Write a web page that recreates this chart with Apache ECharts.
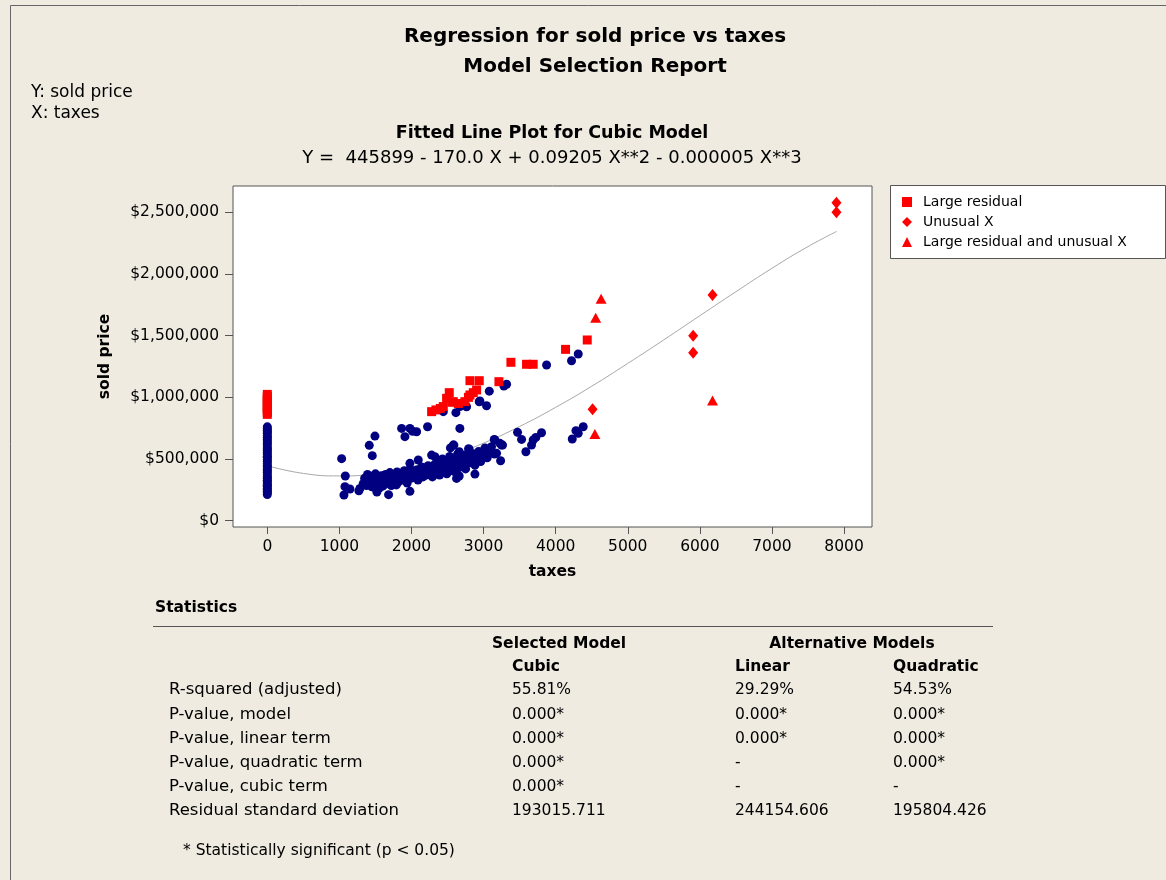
<!DOCTYPE html>
<html><head><meta charset="utf-8">
<script src="https://cdn.jsdelivr.net/npm/echarts@6/dist/echarts.min.js"></script>
<style>html,body{margin:0;padding:0;background:#EFEBE1}#c{width:1166px;height:880px}</style>
</head><body><div id="c"></div><script>
// ---------- data ----------
const taxTicks = [0, 1000, 2000, 3000, 4000, 5000, 6000, 7000, 8000];
const priceTicks = [0, 500000, 1000000, 1500000, 2000000, 2500000];

// fitted cubic curve, sampled along the drawn line
const fitTaxes = [0, 500, 1000, 1500, 2000, 2500, 3000, 3500, 4000, 4500, 5000, 5500, 6000, 6500, 7000, 7500, 7900];
const fitPrice = [445899, 383300, 363000, 381000, 434000, 518000, 629000, 764000, 919000, 1090000, 1275000, 1466000, 1662000, 1856000, 2046000, 2222000, 2345000];

// ordinary observations at taxes = 0
const zeroTaxPrices = [212000, 226000, 238000, 251000, 262000, 279000, 288000, 301000, 318000, 327000, 344000, 356000, 372000, 391000, 402000, 418000, 436000, 447000, 463000, 481000, 494000, 512000, 523000, 541000, 553000, 572000, 584000, 597000, 618000, 629000, 646000, 658000, 676000, 688000, 707000, 719000, 733000, 748000, 761000];

// ordinary observations with taxes > 0  [taxes, sold price]
const normalPoints = [
  [1031,503000],[1082,362000],[1077,276000],[1063,208000],[1146,257000],[1285,262000],[1270,242000],
  [1414,611000],[1456,527000],[1493,686000],[1405,362000],[1414,297000],[1516,248000],[1550,262000],[1520,232000],
  [1682,211000],[1978,238000],
  [1863,748000],[1909,681000],[1978,748000],[2015,725000],[2071,721000],[2223,762000],[2671,748000],
  [2441,884000],[2616,876000],[2672,925000],[2764,924000],[2940,964000],[3041,932000],[2949,970000],
  [3079,1050000],[3282,1092000],[3319,1106000],[3874,1262000],[4220,1297000],[4313,1351000],
  [2801,578000],[3018,578000],[3088,559000],[3157,654000],[3180,546000],[3226,627000],[3249,613000],[3236,486000],
  [2588,613000],[2662,559000],[2792,584000],[2880,540000],[3064,559000],[3148,659000],[3263,613000],
  [2588,492000],[2717,497000],[2510,451000],
  [3471,716000],[3527,659000],[3587,559000],[3665,613000],[3688,654000],[3725,675000],[3804,713000],
  [4230,662000],[4281,730000],[4313,708000],[4382,762000],
  [2880,378000],[2625,343000],[2662,362000],
  [1330,300000],[1350,345000],[1375,320000],[1390,375000],[1420,335000],[1440,300000],[1460,360000],[1480,320000],
  [1500,380000],[1520,295000],[1540,345000],[1560,315000],[1580,365000],[1600,330000],[1620,290000],[1640,375000],
  [1660,345000],[1680,310000],[1700,390000],[1720,335000],[1740,300000],[1760,365000],[1780,340000],[1800,395000],
  [1820,315000],[1840,355000],[1860,380000],[1880,330000],[1900,405000],[1920,360000],[1940,305000],[1960,380000],
  [1980,420000],[2000,345000],[2020,390000],[2050,365000],[2070,410000],[2090,330000],[2110,385000],[2140,435000],
  [2160,355000],[2180,400000],[2200,370000],[2230,445000],[2250,390000],[2270,410000],[2290,355000],[2310,450000],
  [2330,395000],[2350,480000],[2370,420000],[2390,370000],[2410,460000],[2430,500000],[2450,400000],[2470,440000],
  [2490,380000],[2510,470000],[2530,520000],[2550,425000],[2570,455000],[2590,400000],[2620,480000],[2640,540000],
  [2660,430000],[2690,500000],[2710,460000],[2730,530000],[2750,420000],[2780,490000],[2800,560000],[2820,470000],
  [2850,520000],[2880,450000],[2900,500000],[2930,560000],[2960,480000],[2990,530000],[3020,590000],[3050,510000],
  [3110,600000],[3150,540000],[1978,465000],[2094,492000],[2279,532000],[2325,519000],[2579,613000],[2540,590000],
  [1377,285000],[1450,275000],[1600,280000],[1720,285000],[1790,290000]
];

// large residual observations
const largeResidualZeroTax = [862000, 878000, 893000, 910000, 927000, 941000, 958000, 976000, 992000, 1008000, 1024000];
const largeResidual = [
  [2279,884000],[2339,898000],[2400,910000],[2441,925000],[2487,992000],[2524,1038000],[2560,960000],[2580,965000],
  [2650,950000],[2741,965000],[2790,1000000],[2811,1019000],[2857,1038000],[2903,1060000],[2811,1135000],[2940,1135000],
  [3213,1127000],[3379,1284000],[3596,1268000],[3688,1268000],[4137,1389000],[4438,1465000]
];
// unusual X observations
const unusualX = [[4512,903000],[5907,1362000],[5907,1500000],[6176,1830000],[7895,2500000],[7895,2578000]];
// large residual and unusual X
const largeResUnusualX = [[4544,703000],[4555,1645000],[4630,1800000],[6176,975000]];

// statistics table
const statLabels = ['R-squared (adjusted)', 'P-value, model', 'P-value, linear term', 'P-value, quadratic term', 'P-value, cubic term', 'Residual standard deviation'];
const cubicStats = ['55.81%', '0.000*', '0.000*', '0.000*', '0.000*', '193015.711'];
const linearStats = ['29.29%', '0.000*', '0.000*', '-', '-', '244154.606'];
const quadraticStats = ['54.53%', '0.000*', '0.000*', '0.000*', '-', '195804.426'];

// ---------- chart ----------
const FONT = '"DejaVu Sans", Tahoma, sans-serif';
const money = v => '$' + v.toLocaleString('en-US');
function txt(text, x, y, size, bold, align) {
  return {
    type: 'text', silent: true, z: 10,
    style: {
      text: text, x: x, y: y,
      font: (bold ? 'bold ' : '') + size + 'px ' + FONT,
      fill: '#000', align: align || 'left', textAlign: align || 'left',
      verticalAlign: 'middle', textVerticalAlign: 'middle'
    }
  };
}
const graphics = [
  { type: 'rect', silent: true, z: -5, shape: { x: 10.5, y: 5.5, width: 1200, height: 900 }, style: { fill: 'none', stroke: '#666', lineWidth: 1 } },
  { type: 'rect', silent: true, z: -1, shape: { x: 890.5, y: 185.5, width: 275, height: 73 }, style: { fill: '#fff', stroke: '#555', lineWidth: 1 } },
  txt('Regression for sold price vs taxes', 595, 37, 20, true, 'center'),
  txt('Model Selection Report', 595, 67, 20, true, 'center'),
  txt('Y: sold price', 31, 93, 17, false),
  txt('X: taxes', 31, 114, 17, false),
  txt('Fitted Line Plot for Cubic Model', 552, 133, 17.5, true, 'center'),
  txt('Y =  445899 - 170.0 X + 0.09205 X**2 - 0.000005 X**3', 552, 158, 18, false, 'center'),
  txt('Statistics', 155, 608, 15.5, true),
  { type: 'line', silent: true, shape: { x1: 153, y1: 626.5, x2: 993, y2: 626.5 }, style: { stroke: '#555', lineWidth: 1 } },
  txt('Selected Model', 559, 644, 15.5, true, 'center'),
  txt('Alternative Models', 852, 644, 15.5, true, 'center'),
  txt('Cubic', 512, 667, 15.5, true),
  txt('Linear', 735, 667, 15.5, true),
  txt('Quadratic', 893, 667, 15.5, true),
  txt('* Statistically significant (p < 0.05)', 183, 851, 15.5, false)
];
const rowY = [690, 715, 739, 763, 787, 811];
statLabels.forEach((l, i) => {
  graphics.push(txt(l, 169, rowY[i], 16.5, false));
  graphics.push(txt(cubicStats[i], 512, rowY[i], 15.5, false));
  graphics.push(txt(linearStats[i], 735, rowY[i], 15.5, false));
  graphics.push(txt(quadraticStats[i], 893, rowY[i], 15.5, false));
});

const chart = echarts.init(document.getElementById('c'), null, { renderer: 'canvas' });
chart.setOption({
  backgroundColor: '#EFEBE1',
  animation: false,
  textStyle: { fontFamily: FONT },
  grid: { left: 233, top: 186, width: 639, height: 341, show: true, backgroundColor: '#fff', borderColor: '#555', borderWidth: 1 },
  xAxis: {
    type: 'value', min: -476, max: 8388,
    name: 'taxes', nameLocation: 'middle', nameGap: 37,
    nameTextStyle: { fontFamily: FONT, fontSize: 15.5, fontWeight: 'bold', color: '#000' },
    axisLine: { show: false, onZero: false },
    axisTick: { show: true, length: 7, customValues: taxTicks, lineStyle: { color: '#555' } },
    axisLabel: { customValues: taxTicks, margin: 12, fontFamily: FONT, fontSize: 15.5, color: '#000', formatter: v => String(v) },
    splitLine: { show: false }
  },
  yAxis: {
    type: 'value', min: -51070, max: 2713200,
    name: 'sold price', nameLocation: 'middle', nameGap: 120,
    nameTextStyle: { fontFamily: FONT, fontSize: 15.5, fontWeight: 'bold', color: '#000' },
    axisLine: { show: false, onZero: false },
    axisTick: { show: true, length: 8, customValues: priceTicks, lineStyle: { color: '#555' } },
    axisLabel: { customValues: priceTicks, margin: 14, fontFamily: FONT, fontSize: 15.5, color: '#000', formatter: v => money(v) },
    splitLine: { show: false }
  },
  legend: {
    data: ['Large residual', 'Unusual X', 'Large residual and unusual X'],
    orient: 'vertical', left: 897, top: 190, itemWidth: 10, itemHeight: 10, itemGap: 6,
    textStyle: { fontFamily: FONT, fontSize: 14, color: '#000', padding: [0, 0, 0, 6] },
    selectedMode: false
  },
  graphic: graphics,
  series: [
    { name: 'Fit', type: 'line', silent: true, z: 1, showSymbol: false, smooth: true,
      lineStyle: { color: '#a8a8a8', width: 1 },
      data: fitTaxes.map((x, i) => [x, fitPrice[i]]) },
    { name: 'Observation', type: 'scatter', z: 2, symbol: 'circle', symbolSize: 9,
      itemStyle: { color: '#000080', opacity: 1 },
      data: zeroTaxPrices.map(p => [0, p]).concat(normalPoints) },
    { name: 'Large residual', type: 'scatter', z: 3, symbol: 'rect', symbolSize: 9,
      itemStyle: { color: '#ff0000', opacity: 1 },
      data: largeResidualZeroTax.map(p => [0, p]).concat(largeResidual) },
    { name: 'Unusual X', type: 'scatter', z: 3, symbol: 'diamond', symbolSize: [10, 12],
      itemStyle: { color: '#ff0000', opacity: 1 }, data: unusualX },
    { name: 'Large residual and unusual X', type: 'scatter', z: 3, symbol: 'triangle', symbolSize: [11, 10],
      itemStyle: { color: '#ff0000', opacity: 1 }, data: largeResUnusualX }
  ]
});
</script></body></html>
